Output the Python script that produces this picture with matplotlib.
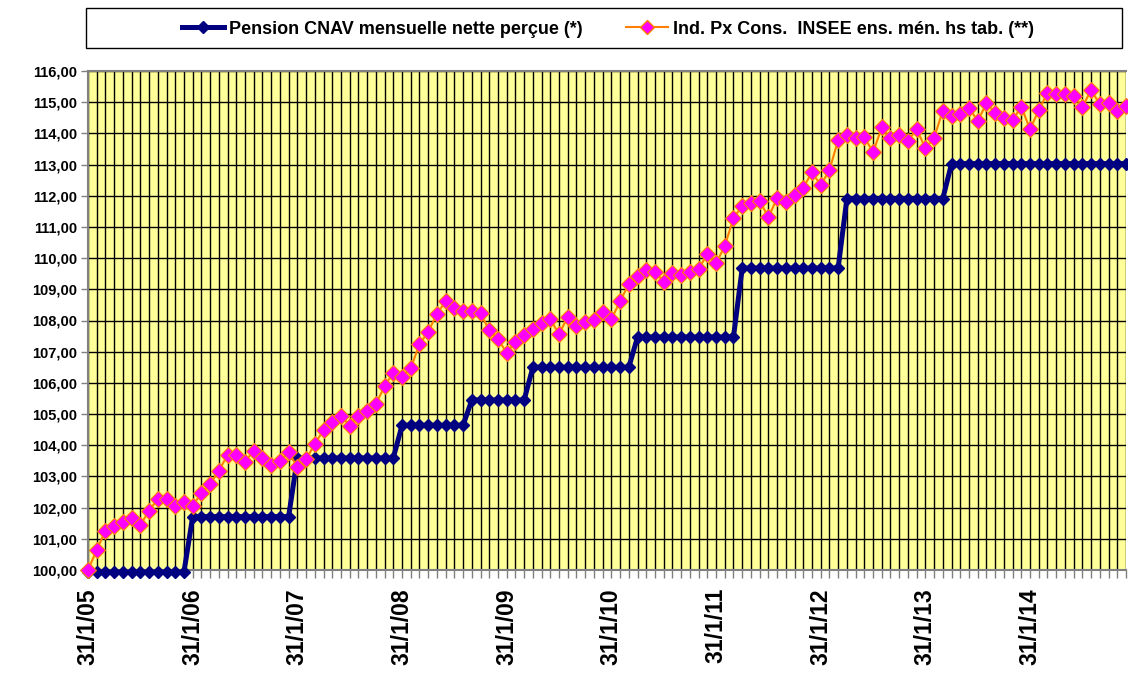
import matplotlib
matplotlib.use("Agg")
import matplotlib.pyplot as plt
from matplotlib.lines import Line2D
from matplotlib.patches import Rectangle
import numpy as np

plt.rcParams['font.family'] = ['Liberation Sans', 'DejaVu Sans']

year_labels = ["31/1/05", "31/1/06", "31/1/07", "31/1/08", "31/1/09",
               "31/1/10", "31/1/11", "31/1/12", "31/1/13", "31/1/14"]

cnav = [
    99.93, 99.93, 99.93, 99.93, 99.93, 99.93, 99.93, 99.93, 99.93, 99.93, 99.93, 99.93,
    101.71, 101.71, 101.71, 101.71, 101.71, 101.71, 101.71, 101.71, 101.71, 101.71, 101.71, 101.71,
    103.59, 103.59, 103.59, 103.59, 103.59, 103.59, 103.59, 103.59, 103.59, 103.59, 103.59, 103.59,
    104.64, 104.64, 104.64, 104.64, 104.64, 104.64, 104.64, 104.64, 105.45, 105.45, 105.45, 105.45,
    105.45, 105.45, 105.45, 106.50, 106.50, 106.50, 106.50, 106.50, 106.50, 106.50, 106.50, 106.50,
    106.50, 106.50, 106.50, 107.47, 107.47, 107.47, 107.47, 107.47, 107.47, 107.47, 107.47, 107.47,
    107.47, 107.47, 107.47, 109.68, 109.68, 109.68, 109.68, 109.68, 109.68, 109.68, 109.68, 109.68,
    109.68, 109.68, 109.68, 111.91, 111.91, 111.91, 111.91, 111.91, 111.91, 111.91, 111.91, 111.91,
    111.91, 111.91, 111.91, 113.03, 113.03, 113.03, 113.03, 113.03, 113.03, 113.03, 113.03, 113.03,
    113.03, 113.03, 113.03, 113.03, 113.03, 113.03, 113.03, 113.03, 113.03, 113.03, 113.03, 113.03,
]

cpi = [
    100.00, 100.64, 101.26, 101.42, 101.55, 101.66, 101.44, 101.90, 102.28, 102.28, 102.06, 102.19,
    102.05, 102.48, 102.76, 103.18, 103.69, 103.69, 103.47, 103.83, 103.58, 103.37, 103.50, 103.77,
    103.31, 103.55, 104.04, 104.49, 104.75, 104.94, 104.63, 104.95, 105.10, 105.31, 105.90, 106.33,
    106.20, 106.47, 107.24, 107.64, 108.21, 108.62, 108.39, 108.30, 108.30, 108.23, 107.69, 107.40,
    106.97, 107.32, 107.53, 107.73, 107.91, 108.04, 107.56, 108.12, 107.82, 107.94, 108.02, 108.28,
    108.04, 108.62, 109.17, 109.44, 109.62, 109.56, 109.24, 109.53, 109.46, 109.56, 109.65, 110.13,
    109.83, 110.39, 111.28, 111.67, 111.76, 111.84, 111.31, 111.92, 111.81, 112.02, 112.26, 112.75,
    112.34, 112.82, 113.79, 113.95, 113.84, 113.89, 113.39, 114.19, 113.84, 113.95, 113.75, 114.14,
    113.52, 113.86, 114.73, 114.56, 114.61, 114.82, 114.40, 114.96, 114.66, 114.50, 114.43, 114.85,
    114.13, 114.75, 115.30, 115.26, 115.26, 115.21, 114.85, 115.39, 114.93, 114.96, 114.73, 114.88,
]

series_names = ["Pension CNAV mensuelle nette perçue (*)",
                "Ind. Px Cons.  INSEE ens. mén. hs tab. (**)"]

W, H = 1128, 675
fig = plt.figure(figsize=(W / 100, H / 100), dpi=100)
fig.patch.set_facecolor('white')

L, R, T, B = 88, 1126, 71, 570
ax = fig.add_axes([L / W, 1 - B / H, (R - L) / W, (B - T) / H])

x = np.arange(len(cnav))
navy = '#000080'
pink = '#FF00FF'
orange = '#FF7F00'

ax.plot(x, cnav, color=navy, lw=3.6, marker='D', ms=6.2, mfc=navy, mec=navy,
        zorder=3, clip_on=False)
ax.plot(x, cpi, color=orange, lw=1.5, marker='D', ms=8.5, mfc=pink, mec=orange,
        mew=0.8, zorder=4, clip_on=False)

ax.set_xlim(0, len(cnav) - 1)
ax.set_ylim(100, 116)
ax.set_facecolor('#FFFF99')

ax.set_xticks(x)
labels = []
for i in x:
    labels.append(year_labels[i // 12] if i % 12 == 0 else '')
ax.set_xticklabels(labels, rotation=90, fontsize=16.5, fontweight='bold')
yt = np.arange(100, 117)
ax.set_yticks(yt)
ax.set_yticklabels([f"{v:.2f}".replace('.', ',') for v in yt], fontsize=10.5,
                   fontweight='bold')

ax.tick_params(axis='x', direction='out', length=6, width=1, color='#808080', pad=7)
ax.tick_params(axis='y', direction='out', length=5, width=1, color='#808080', pad=3)

ax.grid(True, color='black', lw=1.0)
ax.set_axisbelow(True)

for s in ['left', 'bottom', 'top']:
    ax.spines[s].set_color('#808080')
    ax.spines[s].set_linewidth(1.5)
ax.spines['right'].set_visible(False)

# legend box
fig.patches.append(Rectangle((86 / W, 1 - 48 / H), (1122 - 86) / W, 40 / H,
                             transform=fig.transFigure, facecolor='white',
                             edgecolor='black', lw=1.0, zorder=0))
handles = [
    Line2D([], [], color=navy, lw=3.6, marker='D', ms=6, mfc=navy, mec=navy),
    Line2D([], [], color=orange, lw=1.5, marker='D', ms=7, mfc=pink, mec=orange),
]
fig.legend(handles, series_names, loc='center', ncol=2,
           bbox_to_anchor=(608 / W, 1 - 29 / H), frameon=False,
           prop={'weight': 'bold', 'size': 13}, handlelength=2.3,
           handletextpad=0.3, columnspacing=2.4, numpoints=1)

fig.savefig('out.png', dpi=100, facecolor='white')
